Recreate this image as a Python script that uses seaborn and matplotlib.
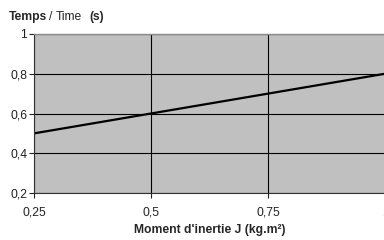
import numpy as np
import pandas as pd
import matplotlib
matplotlib.use('Agg')
import matplotlib.pyplot as plt
import seaborn as sns
from matplotlib.ticker import FuncFormatter

# values
inertia = [0.25, 0.5, 0.75, 1.0]
time_s = [0.5, 0.6, 0.7, 0.8]
x_ticks = [0.25, 0.5, 0.75, 1.0]
y_ticks = [0.2, 0.4, 0.6, 0.8, 1.0]

sns.set_style('white')
plt.rcParams['font.family'] = ['Liberation Sans', 'DejaVu Sans']

data = pd.DataFrame({'J': inertia, 'T': time_s})

fig = plt.figure(figsize=(3.84, 2.4), dpi=100)
ax = fig.add_axes([34 / 384, 47 / 240, 351 / 384, 159 / 240])
ax.set_facecolor('#c0c0c0')

sns.lineplot(data=data, x='J', y='T', ax=ax, color='black', linewidth=1.6)

ax.set_xlim(0.25, 1.0)
ax.set_ylim(0.2, 1.0)
ax.set_xticks(x_ticks)
ax.set_yticks(y_ticks)

def comma(v, pos):
    s = f'{v:.2f}'.rstrip('0').rstrip('.')
    return s.replace('.', ',')

ax.xaxis.set_major_formatter(FuncFormatter(comma))
ax.yaxis.set_major_formatter(FuncFormatter(comma))
ax.grid(True, color='black', linewidth=0.8)
ax.set_axisbelow(True)
ax.tick_params(axis='both', labelsize=8.7, colors='#222222', length=3.5, width=0.8,
               direction='out', bottom=True, left=True)
ax.tick_params(axis='x', pad=6.5)
ax.tick_params(axis='y', pad=1.5)

for side in ['left', 'bottom']:
    ax.spines[side].set_color('#333333')
    ax.spines[side].set_linewidth(0.8)
ax.spines['top'].set_color('#8c8c8c')
ax.spines['top'].set_linewidth(1.0)
ax.spines['right'].set_visible(False)

ax.set_xlabel("Moment d'inertie J (kg.m²)", fontsize=8.7, fontweight='bold', labelpad=4)
ax.set_ylabel('')

# title made of bold and normal pieces, with explicit gaps in pixels
fig.canvas.draw()
renderer = fig.canvas.get_renderer()
x0 = 9
parts = [('Temps', 'bold', 2), ('/', 'normal', 3), ('Time', 'normal', 7), ('(s)', 'bold', 0)]
for txt, w, gap in parts:
    t = fig.text(x0 / 384, 1 - 17 / 240, txt, fontsize=8.7, fontweight=w, va='center', ha='left')
    bb = t.get_window_extent(renderer)
    x0 += bb.width + gap

fig.savefig('out.png', dpi=100)
